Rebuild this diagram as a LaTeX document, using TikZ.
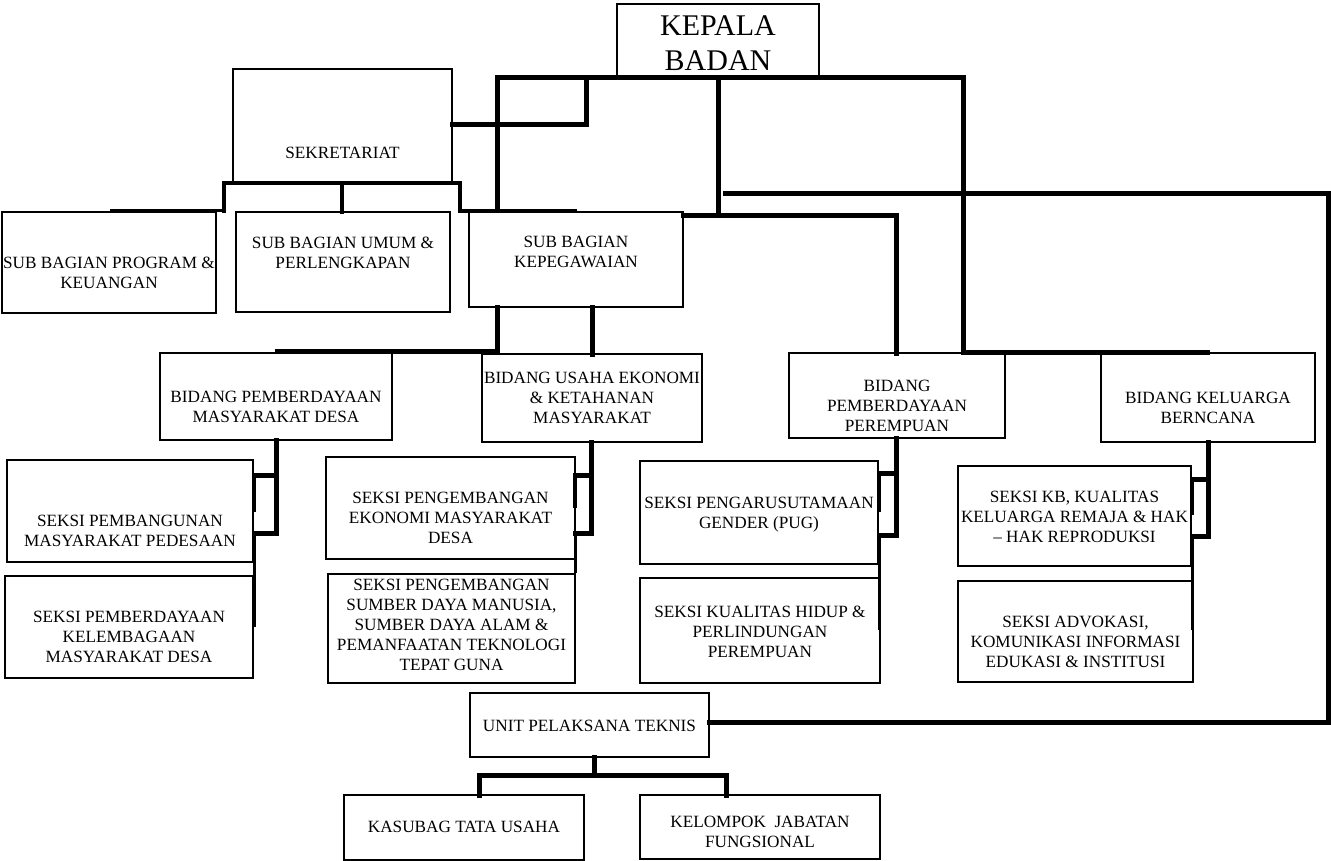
\documentclass[tikz,border=0pt]{standalone}
\usepackage{fontspec}
\setmainfont{Liberation Serif}
\begin{document}
\begin{tikzpicture}[x=1pt,y=-1pt,
  obox/.style={draw, line width=1.5pt, inner sep=0pt, outer sep=0pt, anchor=north west},
  otext/.style={inner sep=0pt, outer sep=0pt, anchor=north, align=center,
                font=\fontsize{17.2}{20}\selectfont},
  bigtext/.style={otext, font=\fontsize{30}{35}\selectfont},
  wire/.style={line width=5pt, line cap=rect},
  midwire/.style={line width=4pt, line cap=rect},
  semiwire/.style={line width=3pt},
  slimwire/.style={line width=3pt}]
\useasboundingbox (0,0) rectangle (1331,861);
\fill[white] (0,0) rectangle (1331,861);

% ---------- boxes ----------
\node[obox, minimum width=202pt, minimum height=73pt]  (kepala)      at (617,4)   {};
\node[obox, minimum width=219pt, minimum height=113pt] (sekretariat) at (233,69)  {};
\node[obox, minimum width=214pt, minimum height=101pt] (sbprog)      at (2,212)   {};
\node[obox, minimum width=214pt, minimum height=100pt] (sbumum)      at (236,212) {};
\node[obox, minimum width=214pt, minimum height=95pt]  (sbpeg)       at (469,212) {};
\node[obox, minimum width=232pt, minimum height=87pt]  (bpmd)        at (160,353) {};
\node[obox, minimum width=220pt, minimum height=88pt]  (buek)        at (482,354) {};
\node[obox, minimum width=216pt, minimum height=85pt]  (bpp)         at (789,353) {};
\node[obox, minimum width=214pt, minimum height=89pt]  (bkb)         at (1101,353){};
\node[obox, minimum width=246pt, minimum height=102pt] (sdesa)       at (7,460)   {};
\node[obox, minimum width=248pt, minimum height=102pt] (slembaga)    at (5,576)   {};
\node[obox, minimum width=249pt, minimum height=102pt] (sekonomi)    at (326,457) {};
\node[obox, minimum width=247pt, minimum height=109pt] (ssdm)        at (328,574) {};
\node[obox, minimum width=238pt, minimum height=103pt] (spug)        at (640,461) {};
\node[obox, minimum width=240pt, minimum height=105pt] (shidup)      at (640,578) {};
\node[obox, minimum width=233pt, minimum height=100pt] (skb)         at (958,466) {};
\node[obox, minimum width=235pt, minimum height=101pt] (sadvokasi)   at (958,581) {};
\node[obox, minimum width=239pt, minimum height=64pt]  (upt)         at (470,693) {};
\node[obox, minimum width=240pt, minimum height=65pt]  (kasubag)     at (344,795) {};
\node[obox, minimum width=240pt, minimum height=64pt]  (kelompok)    at (640,795) {};

% ---------- labels ----------
\node[bigtext] (kepala-t)      at (718,16)    {KEPALA\\BADAN};
\node[otext]   (sekretariat-t) at (342.5,147.6) {SEKRETARIAT};
\node[otext]   (sbprog-t)      at (109,256.6) {SUB BAGIAN PROGRAM \&\\KEUANGAN};
\node[otext]   (sbumum-t)      at (343,236.6) {SUB BAGIAN UMUM \&\\PERLENGKAPAN};
\node[otext]   (sbpeg-t)       at (576,236.6) {SUB BAGIAN\\KEPEGAWAIAN};
\node[otext]   (bpmd-t)        at (276,391.6) {BIDANG PEMBERDAYAAN\\MASYARAKAT DESA};
\node[otext]   (buek-t)        at (592,372.6) {BIDANG USAHA EKONOMI\\\& KETAHANAN\\MASYARAKAT};
\node[otext]   (bpp-t)         at (897,380.6) {BIDANG\\PEMBERDAYAAN\\PEREMPUAN};
\node[otext]   (bkb-t)         at (1208,392.6){BIDANG KELUARGA\\BERNCANA};
\node[otext]   (sdesa-t)       at (130,515.6) {SEKSI PEMBANGUNAN\\MASYARAKAT PEDESAAN};
\node[otext]   (slembaga-t)    at (129,611.6) {SEKSI PEMBERDAYAAN\\KELEMBAGAAN\\MASYARAKAT DESA};
\node[otext]   (sekonomi-t)    at (450.5,492.6) {SEKSI PENGEMBANGAN\\EKONOMI MASYARAKAT\\DESA};
\node[otext]   (ssdm-t)        at (451.5,579.6) {SEKSI PENGEMBANGAN\\SUMBER DAYA MANUSIA,\\SUMBER DAYA ALAM \&\\PEMANFAATAN TEKNOLOGI\\TEPAT GUNA};
\node[otext]   (spug-t)        at (759,497.6) {SEKSI PENGARUSUTAMAAN\\GENDER (PUG)};
\node[otext]   (shidup-t)      at (760,605.6) {SEKSI KUALITAS HIDUP \&\\PERLINDUNGAN\\PEREMPUAN};
\node[otext]   (skb-t)         at (1074.5,491.6) {SEKSI KB, KUALITAS\\KELUARGA REMAJA \& HAK\\– HAK REPRODUKSI};
\node[otext]   (sadvokasi-t)   at (1075.5,616.6) {SEKSI ADVOKASI,\\KOMUNIKASI INFORMASI\\EDUKASI \& INSTITUSI};
\node[otext]   (upt-t)         at (589.5,720.6) {UNIT PELAKSANA TEKNIS};
\node[otext]   (kasubag-t)     at (464,821.6) {KASUBAG TATA USAHA};
\node[otext]   (kelompok-t)    at (760,816.6) {KELOMPOK\ \ JABATAN\\FUNGSIONAL};

% ---------- junction points ----------
\coordinate (hw) at (497,78);
\coordinate (he) at (963,78);
\coordinate (hs) at (586,78);
\coordinate (hm) at (718,78);
\coordinate (sj) at (586,125);
\coordinate (sbj) at (497,211);
\coordinate (pj1) at (718,216);
\coordinate (pj2) at (896,216);
\coordinate (uj1) at (725,194);
\coordinate (uj2) at (1328,194);
\coordinate (uj3) at (1328,722);
\coordinate (kj1) at (963,352);
\coordinate (kj2) at (1207,352);
\coordinate (sa) at (224,183);
\coordinate (sb) at (460,183);
\coordinate (sc) at (342,183);
\coordinate (sa2) at (224,211);
\coordinate (sb2) at (460,211);
\coordinate (pl) at (110,211);
\coordinate (pr) at (577,211);
\coordinate (gj1) at (497,351);
\coordinate (gj0) at (277,351);
\coordinate (uu) at (594,775);
\coordinate (ul) at (479,775);
\coordinate (ur) at (726,775);

% ---------- connectors from the head ----------
\draw[wire] (hw) -- (he);
\draw[wire] (sekretariat.east |- sj) -- (sj) -- (hs);
\draw[wire] (hw) -- (sbj);
\draw[wire] (hm) -- (pj1);
\draw[wire] (sbpeg.east |- pj2) -- (pj2) -- (bpp.north -| pj2);
\draw[wire] (uj1) -- (uj2) -- (uj3) -- (upt.east |- uj3);
\draw[wire] (he) -- (kj1) -- (kj2);

% ---------- secretariat and its sub units ----------
\draw[midwire] (sa2) -- (sa) -- (sb) -- (sb2);
\draw[midwire] (sc) -- (sbumum.north -| sc);
\draw[semiwire] (pl) -- (sa2);
\draw[midwire] (sb2) -- (sbj);
\draw[semiwire] (sbj) -- (pr);

% ---------- from kepegawaian down to the first two fields ----------
\draw[wire] (sbpeg.south -| gj1) -- (gj1) -- (gj0);
\draw[wire] (sbpeg.south -| buek.north) -- (buek.north);

% ---------- field to section branches ----------
% #1 field node, #2 trunk x, #3 section edge x, #4 upper arm y,
% #5 lower arm y, #6 end of the edge stub, #7 end of the slim run
\newcommand\seksibranch[7]{%
  \coordinate (#1-tu) at (#2,#4);
  \coordinate (#1-tl) at (#2,#5);
  \coordinate (#1-eu) at (#3,#4);
  \coordinate (#1-el) at (#3,#5);
  \coordinate (#1-es) at (#3,#6);
  \coordinate (#1-ed) at (#3,#7);
  \draw[wire] (#1.south -| #1-tl) -- (#1-tl) -- (#1-el);
  \draw[wire] (#1-tu) -- (#1-eu);
  \draw[midwire] (#1-eu) -- (#1-es);
  \draw[slimwire] (#1-el) -- (#1-ed);
}
\seksibranch{bpmd}{276}{254}{475}{533}{510}{627}
\seksibranch{buek}{591}{575}{475}{533}{506}{573}
\seksibranch{bpp}{896}{879}{473}{535}{510}{630}
\seksibranch{bkb}{1208}{1192}{479}{536}{513}{630}

% ---------- technical unit ----------
\draw[wire] (upt.south -| uu) -- (uu);
\draw[wire] (kasubag.north -| ul) -- (ul) -- (ur) -- (kelompok.north -| ur);
\end{tikzpicture}
\end{document}
